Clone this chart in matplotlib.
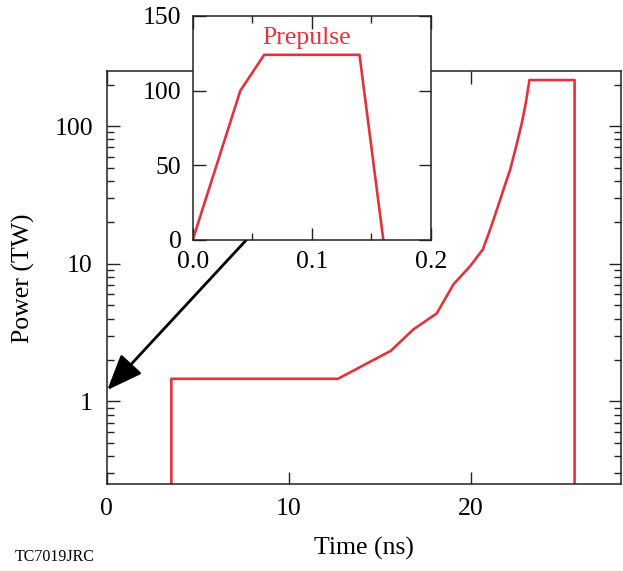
import matplotlib
matplotlib.use("Agg")
import matplotlib.pyplot as plt
from matplotlib.ticker import FixedLocator, LogLocator, FuncFormatter, NullFormatter

# main pulse shape (time in ns, power in TW)
main_t = [3.55, 3.55, 12.7, 15.6, 16.85, 18.13, 19.05, 19.96, 20.66, 21.06,
          21.43, 21.79, 22.16, 22.49, 22.80, 23.02, 23.22, 25.7, 25.7]
main_p = [0.1, 1.46, 1.46, 2.33, 3.34, 4.36, 7.1, 9.6, 12.7, 17.7,
          24.7, 34.5, 48.2, 71.1, 105.0, 147.0, 216.0, 216.0, 0.1]

# prepulse detail (inset)
pre_t = [0.0, 0.04, 0.06, 0.14, 0.16]
pre_p = [0.0, 100.0, 124.0, 124.0, 0.0]

main_yticks = [1, 10, 100]
main_xticks = [0, 10, 20]
inset_xticks = [0.0, 0.1, 0.2]
inset_yticks = [0, 50, 100, 150]

RED = '#e2333d'
plt.rcParams['font.family'] = ['Liberation Serif', 'DejaVu Serif']
plt.rcParams['font.size'] = 18.5

fig = plt.figure(figsize=(6.23, 5.71), dpi=100)
ax = fig.add_axes([0.1713, 0.1518, 0.8255, 0.7233])
ax.plot(main_t, main_p, color=RED, lw=1.9)
ax.set_yscale('log')
ax.set_xlim(0, 28.25)
ax.set_ylim(0.25, 250)
ax.xaxis.set_major_locator(FixedLocator(main_xticks))
ax.yaxis.set_major_locator(FixedLocator(main_yticks))
ax.yaxis.set_minor_locator(LogLocator(base=10, subs=range(2, 10)))
ax.yaxis.set_major_formatter(FuncFormatter(lambda v, p: '%g' % v))
ax.yaxis.set_minor_formatter(NullFormatter())
ax.tick_params(which='both', direction='in', top=True, right=True, width=1.0, color='#222222')
ax.tick_params(which='major', length=9, pad=10)
ax.tick_params(which='minor', length=5)
for s in ax.spines.values():
    s.set_linewidth(1.1)
    s.set_color('#222222')
ax.set_xlabel('Time (ns)', labelpad=12)
ax.set_ylabel('Power (TW)', labelpad=14)

# inset
ax_in = fig.add_axes([0.3093, 0.5797, 0.3825, 0.3923])
ax_in.set_facecolor('white')
ax_in.plot(pre_t, pre_p, color=RED, lw=1.9)
ax_in.set_xlim(0, 0.2)
ax_in.set_ylim(0, 150)
ax_in.xaxis.set_major_locator(FixedLocator(inset_xticks))
ax_in.xaxis.set_minor_locator(FixedLocator([0.05, 0.15]))
ax_in.yaxis.set_major_locator(FixedLocator(inset_yticks))
ax_in.xaxis.set_major_formatter(FuncFormatter(lambda v, p: '%.1f' % v))
ax_in.tick_params(which='both', direction='in', top=True, right=True, width=1.0, color='#222222')
ax_in.tick_params(which='major', length=9, pad=8)
ax_in.tick_params(which='minor', length=5)
for s in ax_in.spines.values():
    s.set_linewidth(1.1)
    s.set_color('#222222')
ax_in.text(0.096, 135, 'Prepulse', color=RED, ha='center', va='center')

# arrow from inset down to the main curve start
ax.annotate('', xy=(0.03, 1.21), xycoords='data',
            xytext=(0.045, 0), textcoords=ax_in.transData,
            arrowprops=dict(arrowstyle='-|>,head_length=1.0,head_width=0.4',
                            color='k', lw=2, mutation_scale=22,
                            shrinkA=0, shrinkB=0),
            annotation_clip=False)

fig.text(0.024, 0.017, 'TC7019JRC', fontsize=11.5)

fig.savefig('out.png', dpi=100)
